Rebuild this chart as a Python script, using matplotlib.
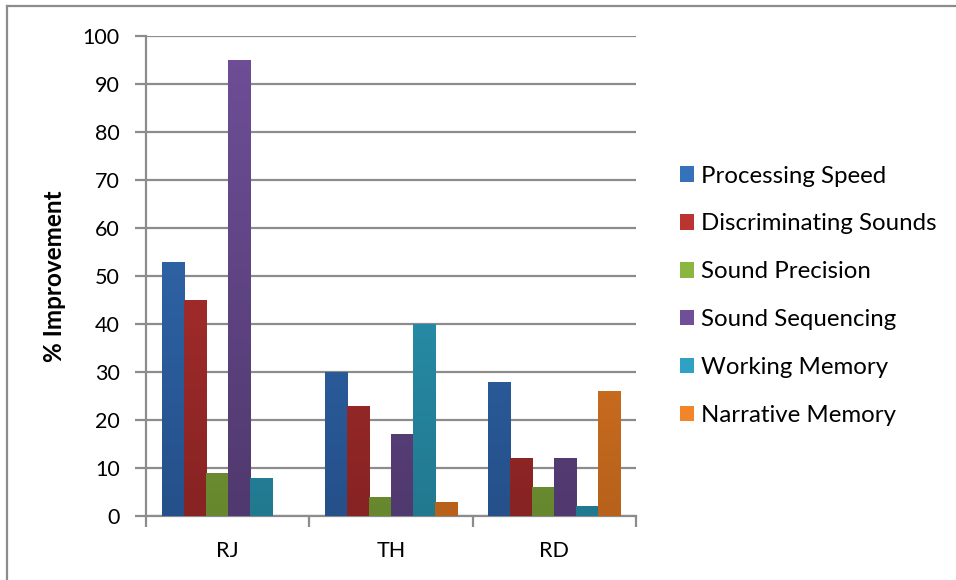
import numpy as np
from matplotlib import pyplot as plt
from matplotlib.colors import LinearSegmentedColormap
from matplotlib.lines import Line2D
from matplotlib.patches import Patch

# Data
subjects = ['RJ', 'TH', 'RD']
series = ['Processing Speed', 'Discriminating Sounds', 'Sound Precision',
          'Sound Sequencing', 'Working Memory', 'Narrative Memory']
processing_speed = [53, 30, 28]
discriminating_sounds = [45, 23, 12]
sound_precision = [9, 4, 6]
sound_sequencing = [95, 17, 12]
working_memory = [8, 40, 2]
narrative_memory = [0, 3, 26]

values = [processing_speed, discriminating_sounds, sound_precision,
          sound_sequencing, working_memory, narrative_memory]

# (top colour, bottom colour) for the Excel-like gradient fill
colors = [('#3572BA', '#25508A'),
          ('#BA3532', '#872323'),
          ('#8DB541', '#67872E'),
          ('#6F4F98', '#50396E'),
          ('#2FA2C3', '#21798F'),
          ('#F2852A', '#B7611B')]

plt.rcParams['font.family'] = ['Lato', 'DejaVu Sans']

fig = plt.figure(figsize=(9.56, 5.8), dpi=100)
ax = fig.add_axes([146/956, 64/580, 490/956, 480/580])

n = len(series)
w = 0.135
x = np.arange(len(subjects))

for i, (vals, (ctop, cbot)) in enumerate(zip(values, colors)):
    xs = x + (i - (n - 1)/2) * w
    bars = ax.bar(xs, vals, width=w, color=cbot, linewidth=0, zorder=3)
    cmap = LinearSegmentedColormap.from_list('g%d' % i, [cbot, ctop])
    grad = np.linspace(0, 1, 256).reshape(-1, 1)
    for b in bars:
        if b.get_height() <= 0:
            continue
        x0 = b.get_x()
        im = ax.imshow(grad, cmap=cmap, origin='lower', aspect='auto',
                       extent=[x0, x0 + w, 0, 100], zorder=4)
        im.set_clip_path(b)

ax.set_xlim(-0.5, 2.5)
ax.set_ylim(0, 100)
ax.set_yticks(range(0, 101, 10))
ax.yaxis.grid(True, color='#8c8c8c', linewidth=1.6, zorder=0)
ax.set_axisbelow(True)

ax.set_xticks(x)
ax.set_xticklabels(subjects)
ax.set_xticks([-0.5, 0.5, 1.5, 2.5], minor=True)
ax.tick_params(axis='x', which='major', length=0, pad=18, labelsize=15.5)
ax.tick_params(axis='x', which='minor', length=8, width=1.6, color='#8c8c8c')
ax.tick_params(axis='y', length=8, width=1.6, color='#8c8c8c', pad=11,
               labelsize=15.5)

for s in ['top', 'right']:
    ax.spines[s].set_visible(False)
for s in ['left', 'bottom']:
    ax.spines[s].set_color('#8c8c8c')
    ax.spines[s].set_linewidth(1.6)

ax.set_ylabel('% Improvement', fontsize=17.5, fontweight='bold', labelpad=12)

handles = [Patch(facecolor=c[0], edgecolor='none') for c in colors]
fig.legend(handles, series, loc='center left', bbox_to_anchor=(658/956, 0.49),
           frameon=False, fontsize=17.3, handlelength=0.6, handleheight=0.6,
           handletextpad=0.3, labelspacing=1.12)

# chart frame (only top and left edges visible)
fig.add_artist(Line2D([7/956, 1], [1 - 6/580, 1 - 6/580],
                      transform=fig.transFigure, color='#8c8c8c', linewidth=1.6))
fig.add_artist(Line2D([7/956, 7/956], [0, 1 - 6/580],
                      transform=fig.transFigure, color='#8c8c8c', linewidth=1.6))

fig.savefig('out.png', dpi=100)
